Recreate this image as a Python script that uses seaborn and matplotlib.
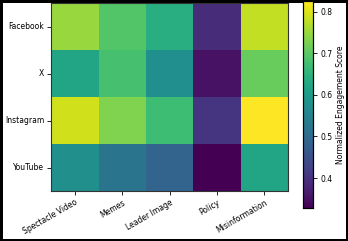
import matplotlib
matplotlib.use("Agg")
import matplotlib.pyplot as plt
import seaborn as sns
import numpy as np
import pandas as pd

platforms = ["Facebook", "X", "Instagram", "YouTube"]
content_types = ["Spectacle Video", "Memes", "Leader Image", "Policy", "Misinformation"]
facebook = [0.75, 0.69, 0.64, 0.39, 0.78]
x_vals = [0.62, 0.68, 0.575, 0.35, 0.71]
instagram = [0.79, 0.73, 0.67, 0.405, 0.826]
youtube = [0.577, 0.52, 0.487, 0.328, 0.62]

df = pd.DataFrame([facebook, x_vals, instagram, youtube], index=platforms, columns=content_types)

fig = plt.figure(figsize=(3.48, 2.41), dpi=100)
fig.patch.set_edgecolor("black")
fig.patch.set_linewidth(2.5)
ax = fig.add_axes([0.147, 0.207, 0.681, 0.780])
cax = fig.add_axes([0.871, 0.137, 0.029, 0.859])

sns.heatmap(df, ax=ax, cbar_ax=cax, cmap="viridis",
            cbar_kws={"label": "Normalized Engagement Score"})
for s in ax.spines.values():
    s.set_visible(True)
    s.set_color("#333333")
    s.set_linewidth(0.8)
ax.tick_params(axis="both", labelsize=5.5, length=3, width=0.6, pad=2)
ax.set_xticklabels(content_types, rotation=30, ha="right", rotation_mode="anchor", fontsize=5.5)
ax.set_yticklabels(platforms, rotation=0, fontsize=5.5)
ax.set_xlabel("")
ax.set_ylabel("")
cax.tick_params(labelsize=5.5, length=3, width=0.6, pad=2)
cax.set_ylabel("Normalized Engagement Score", fontsize=5.5, labelpad=3)
cax.set_yticks([0.4, 0.5, 0.6, 0.7, 0.8])
for s in cax.spines.values():
    s.set_visible(True)
    s.set_linewidth(0.8)

fig.savefig("out.png", dpi=100)
